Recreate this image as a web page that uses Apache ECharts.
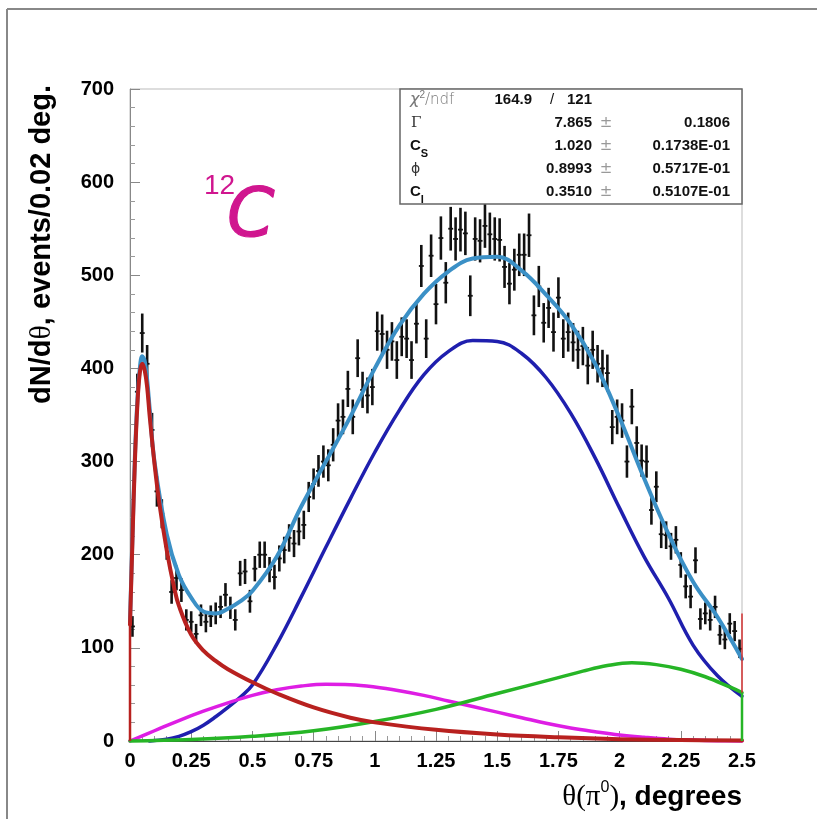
<!DOCTYPE html>
<html>
<head>
<meta charset="utf-8">
<script src="https://cdn.jsdelivr.net/npm/echarts@6/dist/echarts.min.js"></script>
<style>
html,body{margin:0;padding:0;background:#fff;}
#chart{width:817px;height:819px;}
</style>
</head>
<body>
<div id="chart"></div>
<script>
// ---- data ----
const binWidth = 0.02;
const counts = [
 123,375,438,405,334,268,244,209,160,175,
 162,130,128,115,135,128,134,137,144,157,
 143,130,180,182,150,185,200,200,184,176,
 196,205,218,212,225,232,262,276,290,300,
 296,318,344,348,378,348,411,377,371,380,
 440,437,420,429,409,434,432,409,448,510,
 432,521,469,540,492,550,539,549,545,478,
 539,537,553,544,539,538,509,491,506,522,
 522,543,457,488,449,465,439,476,432,439,
 428,420,424,403,420,405,400,395,337,348,
 344,300,359,320,301,300,248,273,222,221,
 209,216,189,166,155,194,131,137,130,144,
 114,109,126,118,99
];
const xTickLabels = ['0','0.25','0.5','0.75','1','1.25','1.5','1.75','2','2.25','2.5'];
const yTickLabels = ['0','100','200','300','400','500','600','700'];

// total fit (light blue)
const totalX = [0,0.01,0.02,0.03,0.04,0.05,0.06,0.07,0.08,0.1,0.15,0.2,0.25,0.3,0.35,0.4,0.45,0.5,0.6,0.7,0.8,0.9,1.0,1.1,1.2,1.3,1.4,1.5,1.6,1.7,1.8,1.9,2.0,2.1,2.2,2.3,2.4,2.5];
const totalY = [128,220,305,365,400,413,408,388,358,300,222,178,154,139,137,142,150,161,198,252,300,348,400,446,480,504,518,520,505,479,448,405,347,282,222,171,133,88];
// red component
const redX = [0,0.01,0.02,0.03,0.04,0.05,0.06,0.07,0.08,0.1,0.12,0.15,0.18,0.2,0.25,0.3,0.35,0.4,0.5,0.6,0.75,0.9,1.0,1.25,1.5,1.75,2.0,2.25,2.5];
const redY = [125,215,300,360,395,405,398,380,350,298,255,205,165,145,114,97,86,77,63,51,36,25,20,12,7,4,2,1,0.5];
// blue component
const blueX = [0.08,0.15,0.2,0.25,0.3,0.35,0.4,0.45,0.5,0.6,0.7,0.8,0.9,1.0,1.1,1.2,1.3,1.4,1.5,1.6,1.7,1.8,1.9,2.0,2.1,2.2,2.3,2.4,2.5];
const blueY = [0,2,5,10,17,26,36,47,60,104,155,208,260,310,355,393,418,430,429,416,390,352,304,250,198,153,103,70,48];
// magenta component
const magX = [0,0.1,0.2,0.3,0.4,0.5,0.6,0.7,0.8,0.9,1.0,1.1,1.2,1.3,1.4,1.5,1.6,1.7,1.8,1.9,2.0,2.1,2.2,2.3,2.4,2.5];
const magY = [0,11,22,32,41,49,55,59,61,60.5,58,54,49,43,37,31,25,19,14,10,6.5,4,2,1,0.3,0];
// green component
const greenX = [0,0.25,0.5,0.75,1.0,1.25,1.5,1.75,1.85,1.95,2.05,2.15,2.25,2.35,2.45,2.5];
const greenY = [0,1.5,5,11,21,34,51,68,75,81,84,82,77,69,58,52];
// vertical edges drawn by the fit functions at the range limits
const redLeftEdge = [0,125];
const redRightEdge = [0,137];
const greenRightEdge = [0,52];

// ---- build ----
const pts = counts.map((n,i)=>[binWidth*i+binWidth/2, n, Math.sqrt(n)]);
const zip = (xs,ys)=>xs.map((x,i)=>[x,ys[i]]);

const chart = echarts.init(document.getElementById('chart'), null, {renderer:'canvas'});

const lineSeries = (data, color, width, z) => ({
  type:'line', data, showSymbol:false, symbol:'none', clip:false,
  smooth:0.4, z,
  lineStyle:{color, width, cap:'round', join:'round'}, animation:false
});
const edgeSeries = (x, ys, color, width, z) => ({
  type:'line', data: ys.map(y=>[x,y]), showSymbol:false, symbol:'none', clip:false,
  z, lineStyle:{color, width}, animation:false
});

const option = {
  animation:false,
  backgroundColor:'#fff',
  grid:{left:130, right:75, top:89, bottom:78, show:true, borderColor:'#bbb', borderWidth:1},
  xAxis:{
    type:'value', min:0, max:2.5, interval:0.25,
    axisLine:{show:true, onZero:false, lineStyle:{color:'#444', width:1}},
    axisTick:{show:true, inside:true, length:10, lineStyle:{color:'#888'}},
    minorTick:{show:true, splitNumber:5, length:5, lineStyle:{color:'#999'}},
    splitLine:{show:false},
    axisLabel:{
      margin:10, color:'#000', fontSize:20, fontWeight:'bold', fontFamily:'Liberation Sans',
      formatter:(v)=>{const i=Math.round(v/0.25); return xTickLabels[i]!==undefined?xTickLabels[i]:'';}
    }
  },
  yAxis:{
    type:'value', min:0, max:700, interval:100,
    axisLine:{show:true, lineStyle:{color:'#888', width:1}},
    axisTick:{show:true, inside:true, length:10, lineStyle:{color:'#888'}},
    minorTick:{show:true, splitNumber:5, length:5, lineStyle:{color:'#999'}},
    splitLine:{show:false},
    axisLabel:{
      margin:16, color:'#000', fontSize:20, fontWeight:'bold', fontFamily:'Liberation Sans',
      formatter:(v)=>{const i=Math.round(v/100); return yTickLabels[i]!==undefined?yTickLabels[i]:'';}
    }
  },
  series:[
    {
      type:'custom', data:pts, z:2, clip:false,
      renderItem:(params, api)=>{
        const x=api.value(0), y=api.value(1), e=api.value(2);
        const lo=api.coord([x,y-e]), hi=api.coord([x,y+e]);
        const l=api.coord([x-binWidth/2,y]), r=api.coord([x+binWidth/2,y]);
        return {type:'group', children:[
          {type:'line', shape:{x1:lo[0],y1:lo[1],x2:hi[0],y2:hi[1]}, style:{stroke:'#111', lineWidth:2.6}},
          {type:'line', shape:{x1:l[0],y1:l[1],x2:r[0],y2:r[1]}, style:{stroke:'#111', lineWidth:1.8}}
        ]};
      }
    },
    lineSeries(zip(totalX,totalY), '#3b90c6', 4, 3),
    lineSeries(zip(blueX,blueY), '#1f1fae', 3.5, 4),
    lineSeries(zip(magX,magY), '#de1ee4', 3.5, 4),
    lineSeries(zip(greenX,greenY), '#26b526', 3.5, 4),
    lineSeries(zip(redX,redY), '#b8211f', 4, 5),
    edgeSeries(0, redLeftEdge, '#b8211f', 2.5, 5),
    edgeSeries(2.5, redRightEdge, '#d23030', 1.5, 5),
    edgeSeries(2.5, greenRightEdge, '#26b526', 2.5, 5)
  ],
  graphic:[
    // outer frame
    {type:'line', shape:{x1:7,y1:9,x2:7,y2:819}, style:{stroke:'#888', lineWidth:2}, z:10},
    {type:'line', shape:{x1:7,y1:9,x2:817,y2:9}, style:{stroke:'#888', lineWidth:2}, z:10},
    // y axis title
    {type:'text', x:42, y:85, rotation:Math.PI/2, z:10,
      style:{text:'{b|dN/d}{n|θ}{b|, events/0.02 deg.}', align:'right', verticalAlign:'middle',
        rich:{b:{fontSize:29, fontWeight:'bold', fontFamily:'Liberation Sans', fill:'#000'},
              n:{fontSize:30, fontFamily:'Liberation Serif', fill:'#000'}}}},
    // x axis title
    {type:'text', x:742, y:797, z:10,
      style:{text:'{n|θ(π}{s|0}{n|)}{b|, degrees}', align:'right', verticalAlign:'middle',
        rich:{n:{fontSize:29, fontFamily:'Liberation Serif', fill:'#000', lineHeight:34},
              s:{fontSize:16, fontFamily:'Liberation Sans', fill:'#000', verticalAlign:'top', lineHeight:34},
              b:{fontSize:28, fontWeight:'bold', fontFamily:'Liberation Sans', fill:'#000', lineHeight:34}}}},
    // 12C label
    {type:'text', x:204, y:186, z:10, style:{text:'12', fontSize:28, fontFamily:'Liberation Sans', fill:'#d0168f', verticalAlign:'middle'}},
    {type:'text', x:227, y:218, z:10, style:{text:'C', fontSize:68, fontStyle:'italic', fontFamily:'DejaVu Sans', fill:'#d0168f', verticalAlign:'middle', stroke:'#d0168f', lineWidth:1.2}},
    // stats box
    {type:'rect', shape:{x:400,y:89,width:342,height:115}, style:{fill:'#fff', stroke:'#666', lineWidth:1.5}, z:20},
    {type:'text', x:410, y:100, z:21, style:{text:'{i|χ}{s|2}{g|/ndf}', verticalAlign:'middle',
      rich:{i:{fontSize:16, fontStyle:'italic', fontFamily:'DejaVu Sans', fill:'#777', lineHeight:20},
            s:{fontSize:10, fontFamily:'Liberation Sans', fill:'#777', verticalAlign:'top', lineHeight:20},
            g:{fontSize:15, fontFamily:'DejaVu Sans', fontWeight:'lighter', fill:'#777', lineHeight:20}}}},
    {type:'text', x:532, y:100, z:21, style:{text:'164.9', align:'right', verticalAlign:'middle', fontSize:15, fontWeight:'bold', fontFamily:'Liberation Sans', fill:'#111'}},
    {type:'text', x:552, y:100, z:21, style:{text:'/', align:'center', verticalAlign:'middle', fontSize:15, fontFamily:'Liberation Sans', fill:'#111'}},
    {type:'text', x:592, y:100, z:21, style:{text:'121', align:'right', verticalAlign:'middle', fontSize:15, fontWeight:'bold', fontFamily:'Liberation Sans', fill:'#111'}},

    {type:'text', x:411, y:123, z:21, style:{text:'Γ', verticalAlign:'middle', fontSize:15, fontFamily:'DejaVu Serif', fill:'#333'}},
    {type:'text', x:410, y:146, z:21, style:{text:'{c|C}{s|S}', verticalAlign:'middle',
      rich:{c:{fontSize:15, fontWeight:'bold', fontFamily:'Liberation Sans', fill:'#111', lineHeight:18},
            s:{fontSize:11, fontWeight:'bold', fontFamily:'Liberation Sans', fill:'#111', verticalAlign:'bottom', lineHeight:26}}}},
    {type:'text', x:411, y:169, z:21, style:{text:'ϕ', verticalAlign:'middle', fontSize:14, fontFamily:'DejaVu Sans', fill:'#333'}},
    {type:'text', x:410, y:192, z:21, style:{text:'{c|C}{s|I}', verticalAlign:'middle',
      rich:{c:{fontSize:15, fontWeight:'bold', fontFamily:'Liberation Sans', fill:'#111', lineHeight:18},
            s:{fontSize:11, fontWeight:'bold', fontFamily:'Liberation Sans', fill:'#111', verticalAlign:'bottom', lineHeight:26}}}},

    {type:'text', x:592, y:123, z:21, style:{text:'7.865', align:'right', verticalAlign:'middle', fontSize:15, fontWeight:'bold', fontFamily:'Liberation Sans', fill:'#111'}},
    {type:'text', x:592, y:146, z:21, style:{text:'1.020', align:'right', verticalAlign:'middle', fontSize:15, fontWeight:'bold', fontFamily:'Liberation Sans', fill:'#111'}},
    {type:'text', x:592, y:169, z:21, style:{text:'0.8993', align:'right', verticalAlign:'middle', fontSize:15, fontWeight:'bold', fontFamily:'Liberation Sans', fill:'#111'}},
    {type:'text', x:592, y:192, z:21, style:{text:'0.3510', align:'right', verticalAlign:'middle', fontSize:15, fontWeight:'bold', fontFamily:'Liberation Sans', fill:'#111'}},

    {type:'text', x:606, y:123, z:21, style:{text:'±', align:'center', verticalAlign:'middle', fontSize:15, fontFamily:'DejaVu Sans', fill:'#999'}},
    {type:'text', x:606, y:146, z:21, style:{text:'±', align:'center', verticalAlign:'middle', fontSize:15, fontFamily:'DejaVu Sans', fill:'#999'}},
    {type:'text', x:606, y:169, z:21, style:{text:'±', align:'center', verticalAlign:'middle', fontSize:15, fontFamily:'DejaVu Sans', fill:'#999'}},
    {type:'text', x:606, y:192, z:21, style:{text:'±', align:'center', verticalAlign:'middle', fontSize:15, fontFamily:'DejaVu Sans', fill:'#999'}},

    {type:'text', x:730, y:123, z:21, style:{text:'0.1806', align:'right', verticalAlign:'middle', fontSize:15, fontWeight:'bold', fontFamily:'Liberation Sans', fill:'#111'}},
    {type:'text', x:730, y:146, z:21, style:{text:'0.1738E-01', align:'right', verticalAlign:'middle', fontSize:15, fontWeight:'bold', fontFamily:'Liberation Sans', fill:'#111'}},
    {type:'text', x:730, y:169, z:21, style:{text:'0.5717E-01', align:'right', verticalAlign:'middle', fontSize:15, fontWeight:'bold', fontFamily:'Liberation Sans', fill:'#111'}},
    {type:'text', x:730, y:192, z:21, style:{text:'0.5107E-01', align:'right', verticalAlign:'middle', fontSize:15, fontWeight:'bold', fontFamily:'Liberation Sans', fill:'#111'}}
  ]
};
chart.setOption(option);
</script>
</body>
</html>
